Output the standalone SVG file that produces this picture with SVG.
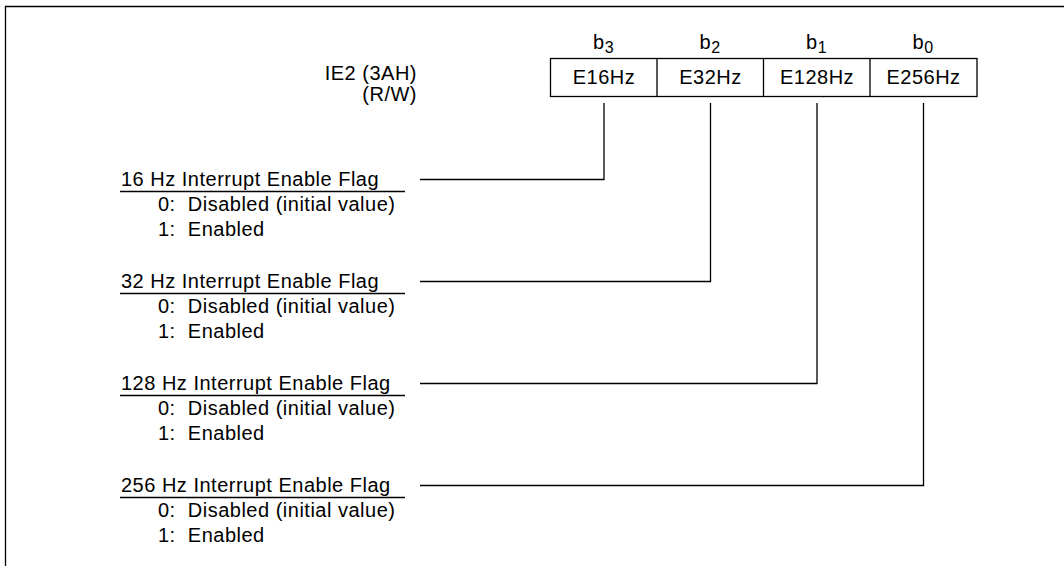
<svg xmlns="http://www.w3.org/2000/svg" width="1064" height="566" viewBox="0 0 1064 566">
<style>
text{font-family:"Liberation Sans",Arial,sans-serif;font-size:20px;letter-spacing:0.5px;fill:#000}
.r{text-anchor:end}
.m{text-anchor:middle}
.sub{font-size:16px}
.ln{stroke:#000;stroke-width:1.3;fill:none}
.cell{fill:#fff;stroke:#000;stroke-width:1.3}
</style>
<rect width="1064" height="566" fill="#fff"/>
<path class="ln" d="M5.5,566 V6.5 H1064" stroke-width="2"/>
<g id="register">
<text class="r" x="417" y="80">IE2 (3AH)</text>
<text class="r" x="417" y="101">(R/W)</text>
<rect class="cell" x="550.5" y="58.5" width="426.5" height="38"/>
<path class="ln" d="M657,58.5V96.5M763.5,58.5V96.5M870,58.5V96.5"/>
<text class="m" x="604" y="84">E16Hz</text>
<text class="m" x="710.5" y="84">E32Hz</text>
<text class="m" x="817" y="84">E128Hz</text>
<text class="m" x="923.5" y="84">E256Hz</text>
<text x="593" y="49">b<tspan class="sub" dy="4">3</tspan></text>
<text x="699.5" y="49">b<tspan class="sub" dy="4">2</tspan></text>
<text x="806" y="49">b<tspan class="sub" dy="4">1</tspan></text>
<text x="912.5" y="49">b<tspan class="sub" dy="4">0</tspan></text>
</g>
<g id="flag16">
<text x="121" y="186">16 Hz Interrupt Enable Flag</text>
<path class="ln" d="M120,191.5H405"/>
<text x="158" y="211" xml:space="preserve">0:  Disabled (initial value)</text>
<text x="158" y="236" xml:space="preserve">1:  Enabled</text>
</g>
<g id="flag32">
<text x="121" y="288">32 Hz Interrupt Enable Flag</text>
<path class="ln" d="M120,293.5H405"/>
<text x="158" y="313" xml:space="preserve">0:  Disabled (initial value)</text>
<text x="158" y="338" xml:space="preserve">1:  Enabled</text>
</g>
<g id="flag128">
<text x="121" y="390">128 Hz Interrupt Enable Flag</text>
<path class="ln" d="M120,395.5H405"/>
<text x="158" y="415" xml:space="preserve">0:  Disabled (initial value)</text>
<text x="158" y="440" xml:space="preserve">1:  Enabled</text>
</g>
<g id="flag256">
<text x="121" y="492">256 Hz Interrupt Enable Flag</text>
<path class="ln" d="M120,497.5H405"/>
<text x="158" y="517" xml:space="preserve">0:  Disabled (initial value)</text>
<text x="158" y="542" xml:space="preserve">1:  Enabled</text>
</g>
<g id="connectors">
<path class="ln" d="M604,103V179.5H420"/>
<path class="ln" d="M710.5,103V281.5H420"/>
<path class="ln" d="M817,103V383.5H420"/>
<path class="ln" d="M923.5,103V485.5H420"/>
</g>
</svg>
